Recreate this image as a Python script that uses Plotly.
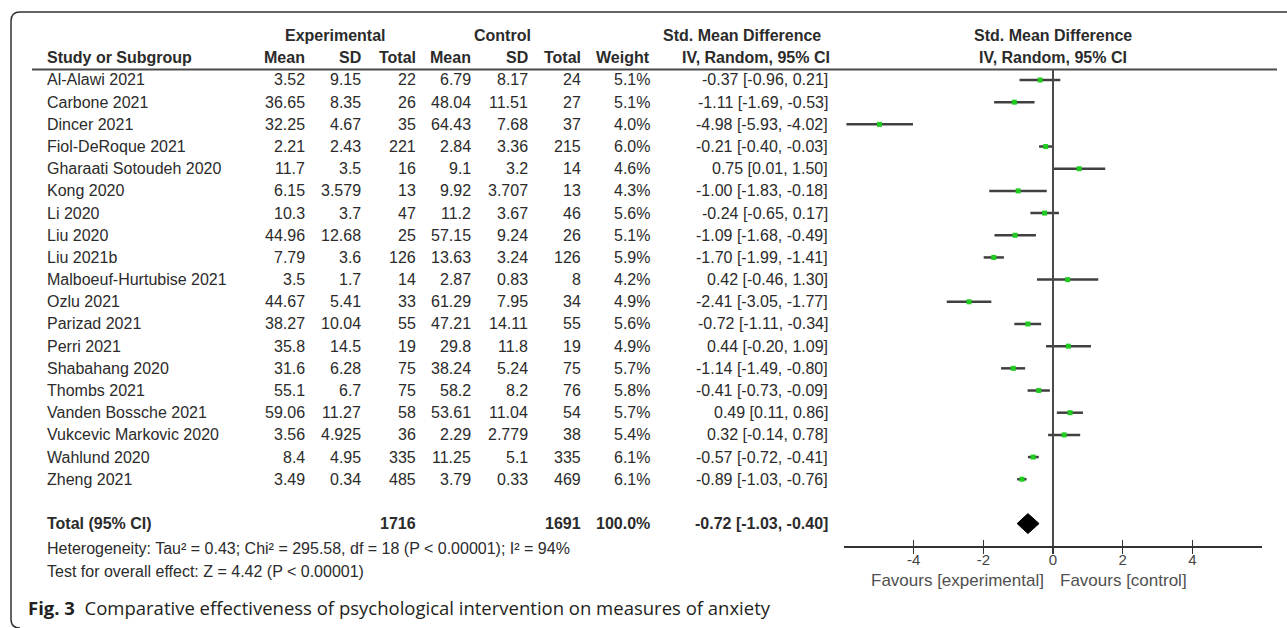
import plotly.graph_objects as go

# ---------------- data ----------------
studies = ["Al-Alawi 2021", "Carbone 2021", "Dincer 2021", "Fiol-DeRoque 2021",
           "Gharaati Sotoudeh 2020", "Kong 2020", "Li 2020", "Liu 2020", "Liu 2021b",
           "Malboeuf-Hurtubise 2021", "Ozlu 2021", "Parizad 2021", "Perri 2021",
           "Shabahang 2020", "Thombs 2021", "Vanden Bossche 2021",
           "Vukcevic Markovic 2020", "Wahlund 2020", "Zheng 2021"]
exp_mean = ["3.52", "36.65", "32.25", "2.21", "11.7", "6.15", "10.3", "44.96", "7.79", "3.5",
            "44.67", "38.27", "35.8", "31.6", "55.1", "59.06", "3.56", "8.4", "3.49"]
exp_sd = ["9.15", "8.35", "4.67", "2.43", "3.5", "3.579", "3.7", "12.68", "3.6", "1.7",
          "5.41", "10.04", "14.5", "6.28", "6.7", "11.27", "4.925", "4.95", "0.34"]
exp_n = [22, 26, 35, 221, 16, 13, 47, 25, 126, 14, 33, 55, 19, 75, 75, 58, 36, 335, 485]
ctl_mean = ["6.79", "48.04", "64.43", "2.84", "9.1", "9.92", "11.2", "57.15", "13.63", "2.87",
            "61.29", "47.21", "29.8", "38.24", "58.2", "53.61", "2.29", "11.25", "3.79"]
ctl_sd = ["8.17", "11.51", "7.68", "3.36", "3.2", "3.707", "3.67", "9.24", "3.24", "0.83",
          "7.95", "14.11", "11.8", "5.24", "8.2", "11.04", "2.779", "5.1", "0.33"]
ctl_n = [24, 27, 37, 215, 14, 13, 46, 26, 126, 8, 34, 55, 19, 75, 76, 54, 38, 335, 469]
weight = [5.1, 5.1, 4.0, 6.0, 4.6, 4.3, 5.6, 5.1, 5.9, 4.2, 4.9, 5.6, 4.9, 5.7, 5.8, 5.7, 5.4, 6.1, 6.1]
smd = [-0.37, -1.11, -4.98, -0.21, 0.75, -1.00, -0.24, -1.09, -1.70, 0.42,
       -2.41, -0.72, 0.44, -1.14, -0.41, 0.49, 0.32, -0.57, -0.89]
ci_lo = [-0.96, -1.69, -5.93, -0.40, 0.01, -1.83, -0.65, -1.68, -1.99, -0.46,
         -3.05, -1.11, -0.20, -1.49, -0.73, 0.11, -0.14, -0.72, -1.03]
ci_hi = [0.21, -0.53, -4.02, -0.03, 1.50, -0.18, 0.17, -0.49, -1.41, 1.30,
         -1.77, -0.34, 1.09, -0.80, -0.09, 0.86, 0.78, -0.41, -0.76]

total_exp_n = 1716
total_ctl_n = 1691
total_weight = 100.0
total_smd = -0.72
total_lo = -1.03
total_hi = -0.40

x_ticks = [-4, -2, 0, 2, 4]
heterogeneity = "Heterogeneity: Tau² = 0.43; Chi² = 295.58, df = 18 (P < 0.00001); I² = 94%"
overall = "Test for overall effect: Z = 4.42 (P < 0.00001)"
caption_bold = "Fig. 3"
caption_text = "Comparative effectiveness of psychological intervention on measures of anxiety"

# ---------------- layout helpers ----------------
W, H = 1287, 628
ROW0, ROWH = 80.0, 22.18
AX_TOP, AX_BOT = 69.5, 546.0
XL, XR = 844.0, 1262.0
FONT = "Liberation Sans, Arial, sans-serif"
TXT = "#2b2b2b"


def px(x):
    return x / W


def py(y):
    return 1 - y / H


def row_y(i):
    return ROW0 + ROWH * i


rows = list(range(len(studies)))
total_row = len(studies) + 1

fig = go.Figure()

# study estimates with CIs
fig.add_trace(go.Scatter(
    x=smd, y=rows, mode="markers",
    marker=dict(symbol="square", size=5, color="#1fcc1f", line=dict(width=0)),
    error_x=dict(type="data", symmetric=False,
                 array=[h - s for h, s in zip(ci_hi, smd)],
                 arrayminus=[s - l for s, l in zip(smd, ci_lo)],
                 width=0, thickness=2.5, color="#404040"),
    cliponaxis=False, hoverinfo="skip", showlegend=False))

# pooled diamond
half = 0.45
fig.add_trace(go.Scatter(
    x=[total_lo, total_smd, total_hi, total_smd, total_lo],
    y=[total_row, total_row - half, total_row, total_row + half, total_row],
    mode="lines", fill="toself", fillcolor="#000000",
    line=dict(color="#000000", width=1),
    cliponaxis=False, hoverinfo="skip", showlegend=False))

# invisible trace to host the crossing-tick axis
fig.add_trace(go.Scatter(x=[0], y=[0], xaxis="x2", mode="markers",
                         marker=dict(size=1, opacity=0), hoverinfo="skip",
                         showlegend=False))

ann = []


def text(s, x, y, anchor="left", bold=False, size=16, color=TXT, family=FONT):
    ann.append(dict(text=("<b>%s</b>" % s) if bold else s, x=px(x), y=py(y),
                    xref="paper", yref="paper", xanchor=anchor, yanchor="middle",
                    showarrow=False, font=dict(family=family, size=size, color=color)))


# column geometry (right edges)
C_NAME = 45
C_EM, C_ESD, C_EN = 307, 363, 418
C_CM, C_CSD, C_CN = 473, 530, 583
C_W, C_CI = 652, 830

# headers
text("Experimental", 335, 35, "center", True)
text("Control", 502, 35, "center", True)
text("Std. Mean Difference", 742, 35, "center", True)
text("Study or Subgroup", C_NAME, 58, "left", True)
for lab, x in [("Mean", C_EM), ("SD", C_ESD), ("Total", C_EN), ("Mean", C_CM),
               ("SD", C_CSD), ("Total", C_CN), ("Weight", C_W)]:
    text(lab, x, 58, "right", True)
text("IV, Random, 95% CI", 756, 58, "center", True)
text("Std. Mean Difference", 1053, 35, "center", True)
text("IV, Random, 95% CI", 1053, 58, "center", True)

# study rows
for i in rows:
    y = row_y(i)
    text(studies[i], C_NAME, y, "left")
    text(exp_mean[i], C_EM, y, "right")
    text(exp_sd[i], C_ESD, y, "right")
    text(str(exp_n[i]), C_EN, y, "right")
    text(ctl_mean[i], C_CM, y, "right")
    text(ctl_sd[i], C_CSD, y, "right")
    text(str(ctl_n[i]), C_CN, y, "right")
    text("%.1f%%" % weight[i], C_W, y, "right")
    text("%.2f [%.2f, %.2f]" % (smd[i], ci_lo[i], ci_hi[i]), C_CI, y, "right")

# total row
yt = row_y(total_row)
text("Total (95% CI)", C_NAME, yt, "left", True)
text(str(total_exp_n), C_EN, yt, "right", True)
text(str(total_ctl_n), C_CN, yt, "right", True)
text("%.1f%%" % total_weight, C_W, yt, "right", True)
text("%.2f [%.2f, %.2f]" % (total_smd, total_lo, total_hi), C_CI, yt, "right", True)
text(heterogeneity, C_NAME, 548, "left")
text(overall, C_NAME, 571, "left")

# favours labels
text("Favours [experimental]", 1046, 580, "right", size=17, color="#505050")
text("Favours [control]", 1058, 580, "left", size=17, color="#505050")

# caption
ann.append(dict(text="<b>%s</b>\u00a0 %s" % (caption_bold, caption_text),
                x=px(26), y=py(607), xref="paper", yref="paper",
                xanchor="left", yanchor="middle", showarrow=False,
                font=dict(family="Open Sans, sans-serif", size=18.5, color="#231f20")))

# frame and lines
r = 9
frame = "M %f,%f L %f,%f Q %f,%f %f,%f L %f,%f Q %f,%f %f,%f" % (
    px(W), py(12), px(11 + r), py(12), px(11), py(12), px(11), py(12 + r),
    px(11), py(H - r), px(11), py(H), px(11 + r), py(H))
shapes = [
    dict(type="path", path=frame, xref="paper", yref="paper",
         line=dict(color="#333333", width=1.5)),
    dict(type="line", xref="paper", yref="paper", x0=px(32), x1=px(1277),
         y0=py(AX_TOP), y1=py(AX_TOP), line=dict(color="#4a4a4a", width=2)),
    dict(type="line", xref="x", yref="paper", x0=0, x1=0,
         y0=py(AX_BOT), y1=py(AX_TOP), line=dict(color="#4a4a4a", width=2)),
]

y_top_val = (AX_TOP - ROW0) / ROWH
y_bot_val = (AX_BOT - ROW0) / ROWH

fig.update_layout(
    width=W, height=H, margin=dict(l=0, r=0, t=0, b=0),
    paper_bgcolor="white", plot_bgcolor="white",
    showlegend=False, annotations=ann, shapes=shapes,
    xaxis=dict(domain=[px(XL), px(XR)], range=[-6, 6], anchor="y",
               tickvals=x_ticks, ticktext=[str(t) for t in x_ticks],
               showline=True, linecolor="#333333", linewidth=1.5,
               ticks="outside", ticklen=6, tickwidth=1.5, tickcolor="#333333",
               ticklabelstandoff=-7,
               tickfont=dict(family=FONT, size=15, color="#444444"),
               showgrid=False, zeroline=False, fixedrange=True),
    xaxis2=dict(domain=[px(XL), px(XR)], overlaying="x", anchor="y", side="bottom",
                range=[-6, 6], tickvals=x_ticks, showticklabels=False, showline=False,
                ticks="inside", ticklen=6, tickwidth=1.5, tickcolor="#333333",
                showgrid=False, zeroline=False, fixedrange=True),
    yaxis=dict(domain=[py(AX_BOT), py(AX_TOP)], range=[y_bot_val, y_top_val],
               visible=False, fixedrange=True),
)

fig.write_html("out.html", config={"displayModeBar": False, "staticPlot": True},
               post_script="document.body.style.margin='0px';")
